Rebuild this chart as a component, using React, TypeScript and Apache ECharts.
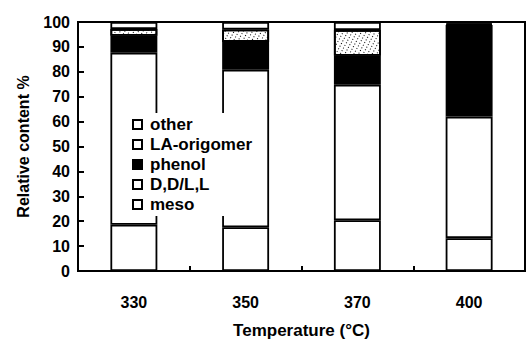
import React, { useEffect, useRef } from "react";
import * as echarts from "echarts";

const categories = ["330", "350", "370", "400"];
const meso = [18.6, 17.6, 20.4, 13.2];
const ddl = [69.1, 63.2, 54.4, 48.8];
const phenol = [6.8, 11.2, 11.6, 36.8];
const laOrigomer = [2.7, 5, 10.4, 0.5];
const other = [2.8, 3, 3.2, 0.7];
const legendNames = ["other", "LA-origomer", "phenol", "D,D/L,L", "meso"];
const yTicks = [0, 100, 10];

const FONT = "Liberation Sans, Arial, sans-serif";

export default function App() {
  const ref = useRef<HTMLDivElement>(null);
  useEffect(() => {
    const chart = echarts.init(ref.current!, null, { renderer: "svg" });
    const mk = (name: string, data: number[], color: string, decal?: any) => ({
      name,
      type: "bar",
      stack: "total",
      data,
      barWidth: "42%",
      itemStyle: { color, borderColor: "#000", borderWidth: 1.8, ...(decal ? { decal } : {}) },
      emphasis: { disabled: true },
    });
    const dots = {
      symbol: "rect",
      symbolSize: 1,
      color: "#000",
      backgroundColor: "#fff",
      dashArrayX: [1, 3],
      dashArrayY: [1, 2],
      rotation: 0.5,
    };
    chart.setOption({
      animation: false,
      grid: {
        left: 78,
        top: 22,
        right: 1,
        bottom: 70,
        show: true,
        borderColor: "#000",
        borderWidth: 2,
        backgroundColor: "transparent",
      },
      legend: {
        orient: "vertical",
        left: 118,
        top: 113,
        padding: [3, 8, 3, 14],
        backgroundColor: "#fff",
        itemWidth: 9,
        itemHeight: 9,
        itemGap: 3,
        icon: "rect",
        data: legendNames.map((n) => ({
          name: n,
          itemStyle: { color: n === "phenol" ? "#000" : "#fff", borderColor: "#000", borderWidth: 2, decal: "none" },
        })),
        textStyle: { color: "#000", fontSize: 17, fontFamily: FONT, fontWeight: "bold", padding: [0, 0, 0, 3] },
      },
      xAxis: {
        type: "category",
        data: categories,
        name: "Temperature (°C)",
        nameLocation: "middle",
        nameGap: 51,
        nameTextStyle: { color: "#000", fontSize: 17, fontFamily: FONT, fontWeight: "bold" },
        axisLine: { lineStyle: { color: "#000", width: 2 } },
        axisTick: { show: true, inside: true, length: 5, lineStyle: { color: "#000", width: 2 } },
        axisLabel: { color: "#000", fontSize: 16, fontFamily: FONT, fontWeight: "bold", margin: 23 },
      },
      yAxis: {
        type: "value",
        min: yTicks[0],
        max: yTicks[1],
        interval: yTicks[2],
        name: "Relative content %",
        nameLocation: "middle",
        nameGap: 47,
        nameTextStyle: { color: "#000", fontSize: 16, fontFamily: FONT, fontWeight: "bold" },
        splitLine: { show: false },
        axisLine: { show: true, lineStyle: { color: "#000", width: 2 } },
        axisTick: { show: true, inside: true, length: 6, lineStyle: { color: "#000", width: 2 } },
        axisLabel: { color: "#000", fontSize: 16, fontFamily: FONT, fontWeight: "bold", margin: 8 },
      },
      series: [
        mk("meso", meso, "#fff"),
        mk("D,D/L,L", ddl, "#fff"),
        mk("phenol", phenol, "#000"),
        mk("LA-origomer", laOrigomer, "#fff", dots),
        mk("other", other, "#fff"),
      ],
    });
    return () => chart.dispose();
  }, []);
  return <div ref={ref} style={{ width: 526, height: 344, position: "absolute", left: 0, top: 0 }} />;
}
